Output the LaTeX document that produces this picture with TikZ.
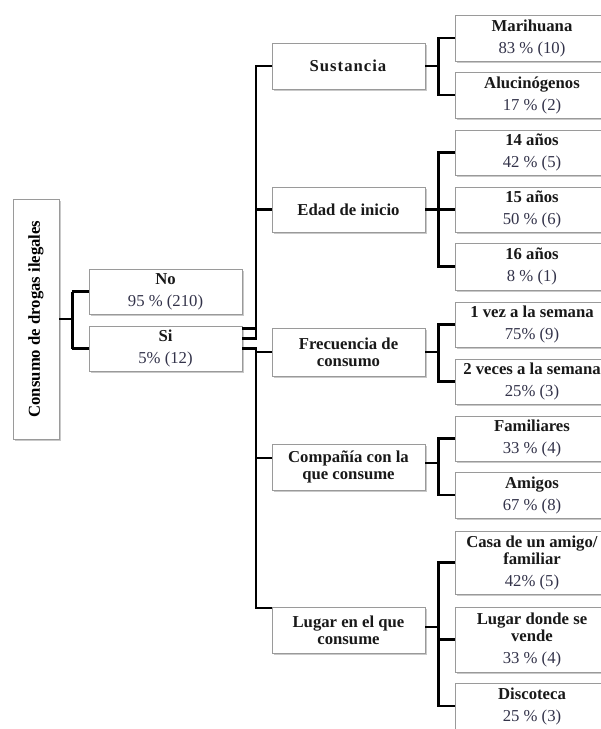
\documentclass[tikz,border=0pt]{standalone}
\usepackage{fontspec}
\setmainfont{Liberation Serif}
\usetikzlibrary{shadows}
\definecolor{pctc}{HTML}{33334A}
\definecolor{boxdraw}{HTML}{9A9A9A}
\tikzset{
 box/.style={draw=boxdraw, fill=white, line width=0.9pt, align=center, inner sep=1pt,
   minimum width=153, font=\fontsize{16.7}{17}\selectfont, text=black!90,
   drop shadow={shadow xshift=2pt, shadow yshift=-2pt, fill=black!35, opacity=0.6}},
 conn/.style={line width=2.8pt, black, line join=miter},
}
\newcommand{\bxt}[2]{\textbf{#1}\\[5pt]{\color{pctc}#2}}
\begin{document}
\begin{tikzpicture}[x=1pt,y=-1pt]
\clip (0,0) rectangle (601,729);
\fill[white] (0,0) rectangle (601,729);
% left
\node[box, minimum width=46, minimum height=240] (root) at (36,319) {};
\node[rotate=90, font=\fontsize{16.7}{17}\selectfont\bfseries] (rootlabel) at (root.center) {Consumo de drogas ilegales};
\node[box, minimum height=45] (no) at (165.5,291.5) {\bxt{No}{95 \% (210)}};
\node[box, minimum height=45] (si) at (165.5,348.5) {\bxt{Si}{5\% (12)}};
% middle
\node[box, minimum height=46] (sust) at (348.5,66) {\textbf{\addfontfeature{LetterSpace=6}Sustancia}};
\node[box, minimum height=45] (edad) at (348.5,209.5) {\textbf{Edad de inicio}};
\node[box, minimum height=48] (frec) at (348.5,352) {\textbf{Frecuencia de}\\\textbf{consumo}};
\node[box, minimum height=46] (comp) at (348.5,467) {\textbf{Compañía con la}\\\textbf{que consume}};
\node[box, minimum height=46] (lugar) at (348.5,630) {\textbf{Lugar en el que}\\\textbf{consume}};
% right
\tikzset{rbox/.style={box, minimum width=154}}
\node[rbox, minimum height=46] (mar) at (532,38) {\bxt{Marihuana}{83 \% (10)}};
\node[rbox, minimum height=46] (aluc) at (532,95) {\bxt{Alucinógenos}{17 \% (2)}};
\node[rbox, minimum height=45] (a14) at (532,152.5) {\bxt{14 años}{42 \% (5)}};
\node[rbox, minimum height=45] (a15) at (532,209.5) {\bxt{15 años}{50 \% (6)}};
\node[rbox, minimum height=47] (a16) at (532,266.5) {\bxt{16 años}{8 \% (1)}};
\node[rbox, minimum height=45] (v1) at (532,324.5) {\bxt{1 vez a la semana}{75\% (9)}};
\node[rbox, minimum height=45] (v2) at (532,381.5) {\bxt{2 veces a la semana}{25\% (3)}};
\node[rbox, minimum height=45] (fam) at (532,438.5) {\bxt{Familiares}{33 \% (4)}};
\node[rbox, minimum height=46] (ami) at (532,495) {\bxt{Amigos}{67 \% (8)}};
\node[rbox, minimum height=63] (casa) at (532,562.5) {\textbf{Casa de un amigo/}\\\bxt{familiar}{42\% (5)}};
\node[rbox, minimum height=65] (ldon) at (532,639.5) {\textbf{Lugar donde se}\\\bxt{vende}{33 \% (4)}};
\node[rbox, minimum height=46] (disc) at (532,706) {\bxt{Discoteca}{25 \% (3)}};
% root connectors
\draw[conn] (root.east) -- ++(13,0) coordinate (rb);
\draw[conn] (rb |- no.west) -- (rb |- si.west);
\draw[conn] (rb |- no.west) -- (no.west);
\draw[conn] (rb |- si.west) -- (si.west);
% si to middle
\coordinate (busTop) at (256,66);
\coordinate (busBot) at (256,608);
\draw[conn] ([yshift=20pt]si.east) -- ([yshift=20pt]si.east -| busTop);
\draw[conn] ([yshift=10pt]si.east) -- ([yshift=10pt]si.east -| busTop) -- (busTop) -- (sust.west);
\draw[conn] (edad.west -| busTop) -- (edad.west);
\draw[conn] (si.east) -- (si.east -| busTop) -- (busBot) -- (busBot -| lugar.west);
\draw[conn] (frec.west -| busTop) -- (frec.west);
\draw[conn] ([yshift=9pt]comp.west -| busTop) -- ([yshift=9pt]comp.west);
% middle to right
\draw[conn] (sust.east) -- ++(13,0) coordinate (b1);
\draw[conn] (mar.west) -| (b1) |- (aluc.west);
\draw[conn] (edad.east) -- ++(13,0) coordinate (b2);
\draw[conn] (a14.west) -| (b2) |- (a16.west);
\draw[conn] (b2) -- (a15.west);
\draw[conn] (frec.east) -- ++(13,0) coordinate (b3);
\draw[conn] (v1.west) -| (b3) |- (v2.west);
\draw[conn] ([yshift=4pt]comp.east) -- ++(13,0) coordinate (b4);
\draw[conn] (fam.west) -| (b4) |- (ami.west);
\draw[conn] ([yshift=3pt]lugar.east) -- ++(13,0) coordinate (b5);
\draw[conn] (casa.west) -| (b5) |- (disc.west);
\draw[conn] (b5 |- ldon.west) -- (ldon.west);
\end{tikzpicture}
\end{document}
